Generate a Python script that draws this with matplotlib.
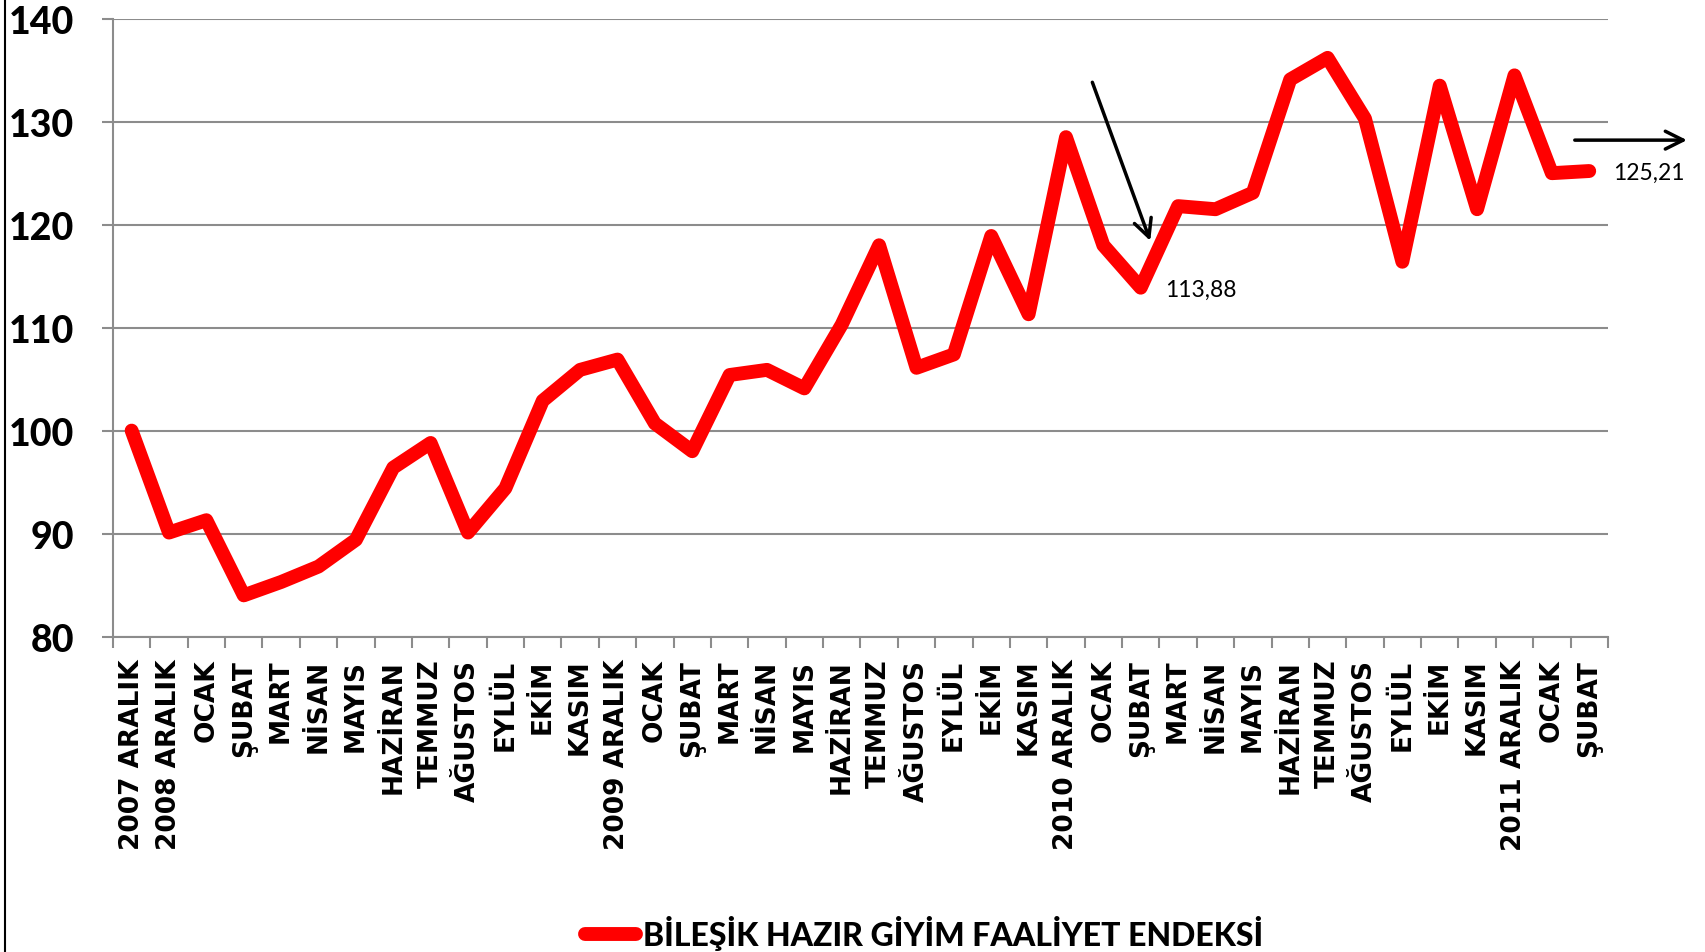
import matplotlib
matplotlib.use("Agg")
import matplotlib.pyplot as plt
from matplotlib.lines import Line2D
import numpy as np

# ---------------- veri ----------------
aylar = ["2007 ARALIK", "2008 ARALIK", "OCAK", "ŞUBAT", "MART", "NİSAN", "MAYIS",
         "HAZİRAN", "TEMMUZ", "AĞUSTOS", "EYLÜL", "EKİM", "KASIM",
         "2009 ARALIK", "OCAK", "ŞUBAT", "MART", "NİSAN", "MAYIS",
         "HAZİRAN", "TEMMUZ", "AĞUSTOS", "EYLÜL", "EKİM", "KASIM",
         "2010 ARALIK", "OCAK", "ŞUBAT", "MART", "NİSAN", "MAYIS",
         "HAZİRAN", "TEMMUZ", "AĞUSTOS", "EYLÜL", "EKİM", "KASIM",
         "2011 ARALIK", "OCAK", "ŞUBAT"]

endeks = [100.0, 90.1, 91.3, 84.0, 85.3, 86.8, 89.4, 96.4, 98.8, 90.1,
          94.4, 102.9, 105.9, 106.9, 100.7, 98.0, 105.4, 105.9, 104.1, 110.3,
          118.0, 106.1, 107.4, 118.9, 111.3, 128.5, 118.0, 113.88, 121.8, 121.5,
          123.1, 134.1, 136.2, 130.3, 116.4, 133.5, 121.5, 134.5, 125.0, 125.21]

seri_adi = "BİLEŞİK HAZIR GİYİM FAALİYET ENDEKSİ"
y_ticks = [80, 90, 100, 110, 120, 130, 140]

fontlar = ["Lato", "DejaVu Sans"]
plt.rcParams["font.family"] = fontlar

fig = plt.figure(figsize=(17.06, 9.53), dpi=100)
ax = fig.add_axes([0.0662, 0.331, 0.8763, 0.6483])

x = np.arange(len(endeks))
cizgi, = ax.plot(x, endeks, color="#ff0000", linewidth=10,
                 solid_capstyle="round", solid_joinstyle="round", zorder=3)

ax.set_xlim(-0.5, len(endeks) - 0.5)
ax.set_ylim(80, 140)
ax.set_yticks(y_ticks)
ax.set_yticklabels([str(v) for v in y_ticks], fontsize=27, fontweight="black")
ax.grid(axis="y", color="#8c8c8c", linewidth=1.5)
ax.set_axisbelow(True)

# x ekseni: etiketler ortada, tikler sınırlarda
ax.set_xticks(x)
ax.set_xticklabels(aylar, rotation=90, fontsize=19, fontweight="bold",
                   family="DejaVu Sans", va="top", ha="center")
ax.set_xticks(np.arange(len(endeks) + 1) - 0.5, minor=True)
ax.tick_params(axis="x", which="major", length=0, pad=16)
ax.tick_params(axis="x", which="minor", length=8, width=1.5, color="#8c8c8c")
ax.tick_params(axis="y", length=8, width=1.5, color="#8c8c8c", pad=20)

for s in ["top", "right"]:
    ax.spines[s].set_visible(False)
for s in ["left", "bottom"]:
    ax.spines[s].set_color("#8c8c8c")
    ax.spines[s].set_linewidth(1.5)

# oklar ve değer etiketleri
i1 = 27
ax.annotate("", xy=(i1 + 0.28, endeks[i1] + 4.3), xytext=(i1 - 1.32, endeks[i1] + 20.2),
            arrowprops=dict(arrowstyle="->", color="black", lw=2.5, mutation_scale=32))
ax.text(i1 + 0.66, endeks[i1] - 0.2, f"{endeks[i1]:.2f}".replace(".", ","),
        fontsize=16.5, va="center", ha="left")

i2 = len(endeks) - 1
ax.annotate("", xy=(i2 + 2.69, endeks[i2] + 3.0), xytext=(i2 - 0.46, endeks[i2] + 3.0),
            arrowprops=dict(arrowstyle="->", color="black", lw=2.5, mutation_scale=32),
            annotation_clip=False)
ax.text(i2 + 0.65, endeks[i2] - 0.1, f"{endeks[i2]:.2f}".replace(".", ","),
        fontsize=16.5, va="center", ha="left", clip_on=False)

# lejant
fig.legend([cizgi], [seri_adi], loc="center", bbox_to_anchor=(0.5416, 0.02),
           frameon=False, handlelength=1.6, handletextpad=0.2,
           prop={"family": fontlar, "weight": "black", "size": 23})

# sol çerçeve çizgisi
fig.add_artist(Line2D([0.003, 0.003], [0, 1], transform=fig.transFigure,
                      color="black", linewidth=1.5))

fig.savefig("out.png", dpi=100)
